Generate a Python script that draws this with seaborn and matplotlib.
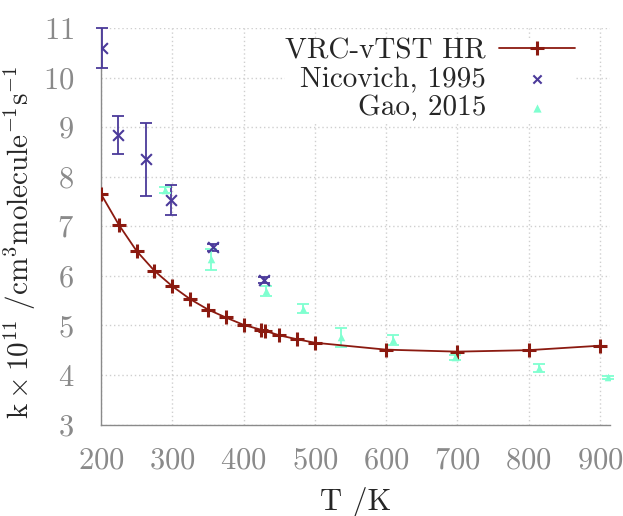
import numpy as np
import pandas as pd
import matplotlib
matplotlib.use("Agg")
import matplotlib.pyplot as plt
import seaborn as sns

# VRC-vTST HR rate constants (k x 1e11, cm^3 molecule^-1 s^-1)
T_calc = [200, 225, 250, 275, 300, 325, 350, 375, 400, 425, 430, 450, 475, 500,
          600, 700, 800, 900]
k_calc = [7.65, 7.03, 6.50, 6.10, 5.79, 5.53, 5.32, 5.16, 5.01, 4.91, 4.89, 4.80,
          4.72, 4.65, 4.51, 4.47, 4.50, 4.59]

# Nicovich, 1995 measurements
T_nic = [202, 224, 263, 298, 357, 429]
k_nic = [10.60, 8.84, 8.35, 7.53, 6.58, 5.91]
e_nic = [0.40, 0.39, 0.74, 0.30, 0.07, 0.06]

# Gao, 2015 measurements
T_gao = [290, 355, 432, 483, 536, 610, 697, 815, 911]
k_gao = [7.74, 6.33, 5.69, 5.34, 4.76, 4.71, 4.36, 4.14, 3.95]
e_gao = [0.06, 0.22, 0.10, 0.10, 0.19, 0.10, 0.05, 0.08, 0.03]

labels = ["VRC-vTST HR", "Nicovich, 1995", "Gao, 2015"]
c_calc, c_nic, c_gao = "#8b1a10", "#4b3a9a", "#7fffd0"

sns.set_style("white")
plt.rcParams["font.family"] = ["cmr10", "DejaVu Serif"]
plt.rcParams["mathtext.fontset"] = "cm"
plt.rcParams["axes.formatter.use_mathtext"] = True
plt.rcParams["axes.unicode_minus"] = False
fs = 22

fig = plt.figure(figsize=(6.23, 5.16), dpi=100)
ax = fig.add_axes([101 / 623, 1 - 424.5 / 516, (610 - 101) / 623, (424.5 - 28) / 516])

calc = pd.DataFrame({"T": T_calc, "k": k_calc})
nic = pd.DataFrame({"T": T_nic, "k": k_nic, "e": e_nic})
gao = pd.DataFrame({"T": T_gao, "k": k_gao, "e": e_gao})

for df, col in ((nic, c_nic), (gao, c_gao)):
    eb = ax.errorbar(df["T"], df["k"], yerr=df["e"], fmt="none", ecolor=col,
                     elinewidth=1.3, capsize=4, capthick=1.3, zorder=3)
    for art in eb.lines[1] + eb.lines[2]:
        art.set_clip_on(False)

sns.lineplot(data=calc, x="T", y="k", ax=ax, color=c_calc, lw=1.3, marker="+",
             markersize=10, markeredgewidth=2.2, markeredgecolor=c_calc,
             label=labels[0], zorder=4)
sns.scatterplot(data=nic, x="T", y="k", ax=ax, color=c_nic, marker="x", s=60,
                linewidth=1.5, label=labels[1], zorder=5)
sns.scatterplot(data=gao, x="T", y="k", ax=ax, color=c_gao, marker="^", s=30,
                linewidth=0, label=labels[2], zorder=5)

ax.set_xlim(200, 914)
ax.set_ylim(3, 11)
ax.set_xticks(np.arange(200, 901, 100))
ax.set_xticks(np.arange(250, 901, 100), minor=True)
ax.set_yticks(np.arange(3, 12, 1))
ax.set_yticks(np.arange(3, 11.01, 0.1), minor=True)

grey = "#8a8a8a"
for s in ["top", "right"]:
    ax.spines[s].set_visible(False)
for s in ["left", "bottom"]:
    ax.spines[s].set_color(grey)
    ax.spines[s].set_linewidth(1.0)

ax.tick_params(axis="both", which="major", direction="out", length=6, width=1,
               color=grey, labelcolor=grey, labelsize=fs)
ax.tick_params(axis="both", which="minor", direction="out", length=3, width=0.8,
               color=grey)
ax.tick_params(axis="x", which="major", pad=10.5)
ax.tick_params(axis="y", which="major", pad=13.5)

ax.grid(True, which="major", color="#cfcfcf", linestyle=(0, (1, 2)), lw=1.0)
ax.set_axisbelow(True)

ax.set_xlabel("T /K", fontsize=fs)
ax.set_ylabel(r"$\mathrm{k}\times10^{11}\ /\mathrm{cm}^{3}\mathrm{molecule}^{-1}\mathrm{s}^{-1}$",
              fontsize=fs - 1)
ax.xaxis.set_label_coords(0.5, -0.158)
ax.yaxis.set_label_coords(-0.124, 0.46)

leg = ax.legend(loc="upper right", bbox_to_anchor=(0.931, 0.975), fontsize=fs - 1,
                markerfirst=False, frameon=True, framealpha=1, edgecolor="white",
                facecolor="white", handlelength=2.6, handletextpad=0.45,
                labelspacing=0.08, borderpad=0.0, borderaxespad=0.0,
                fancybox=False)
leg.get_frame().set_linewidth(0)
for h in leg.legend_handles[1:]:
    h.set_sizes([35])

fig.savefig("out.png", dpi=100)
